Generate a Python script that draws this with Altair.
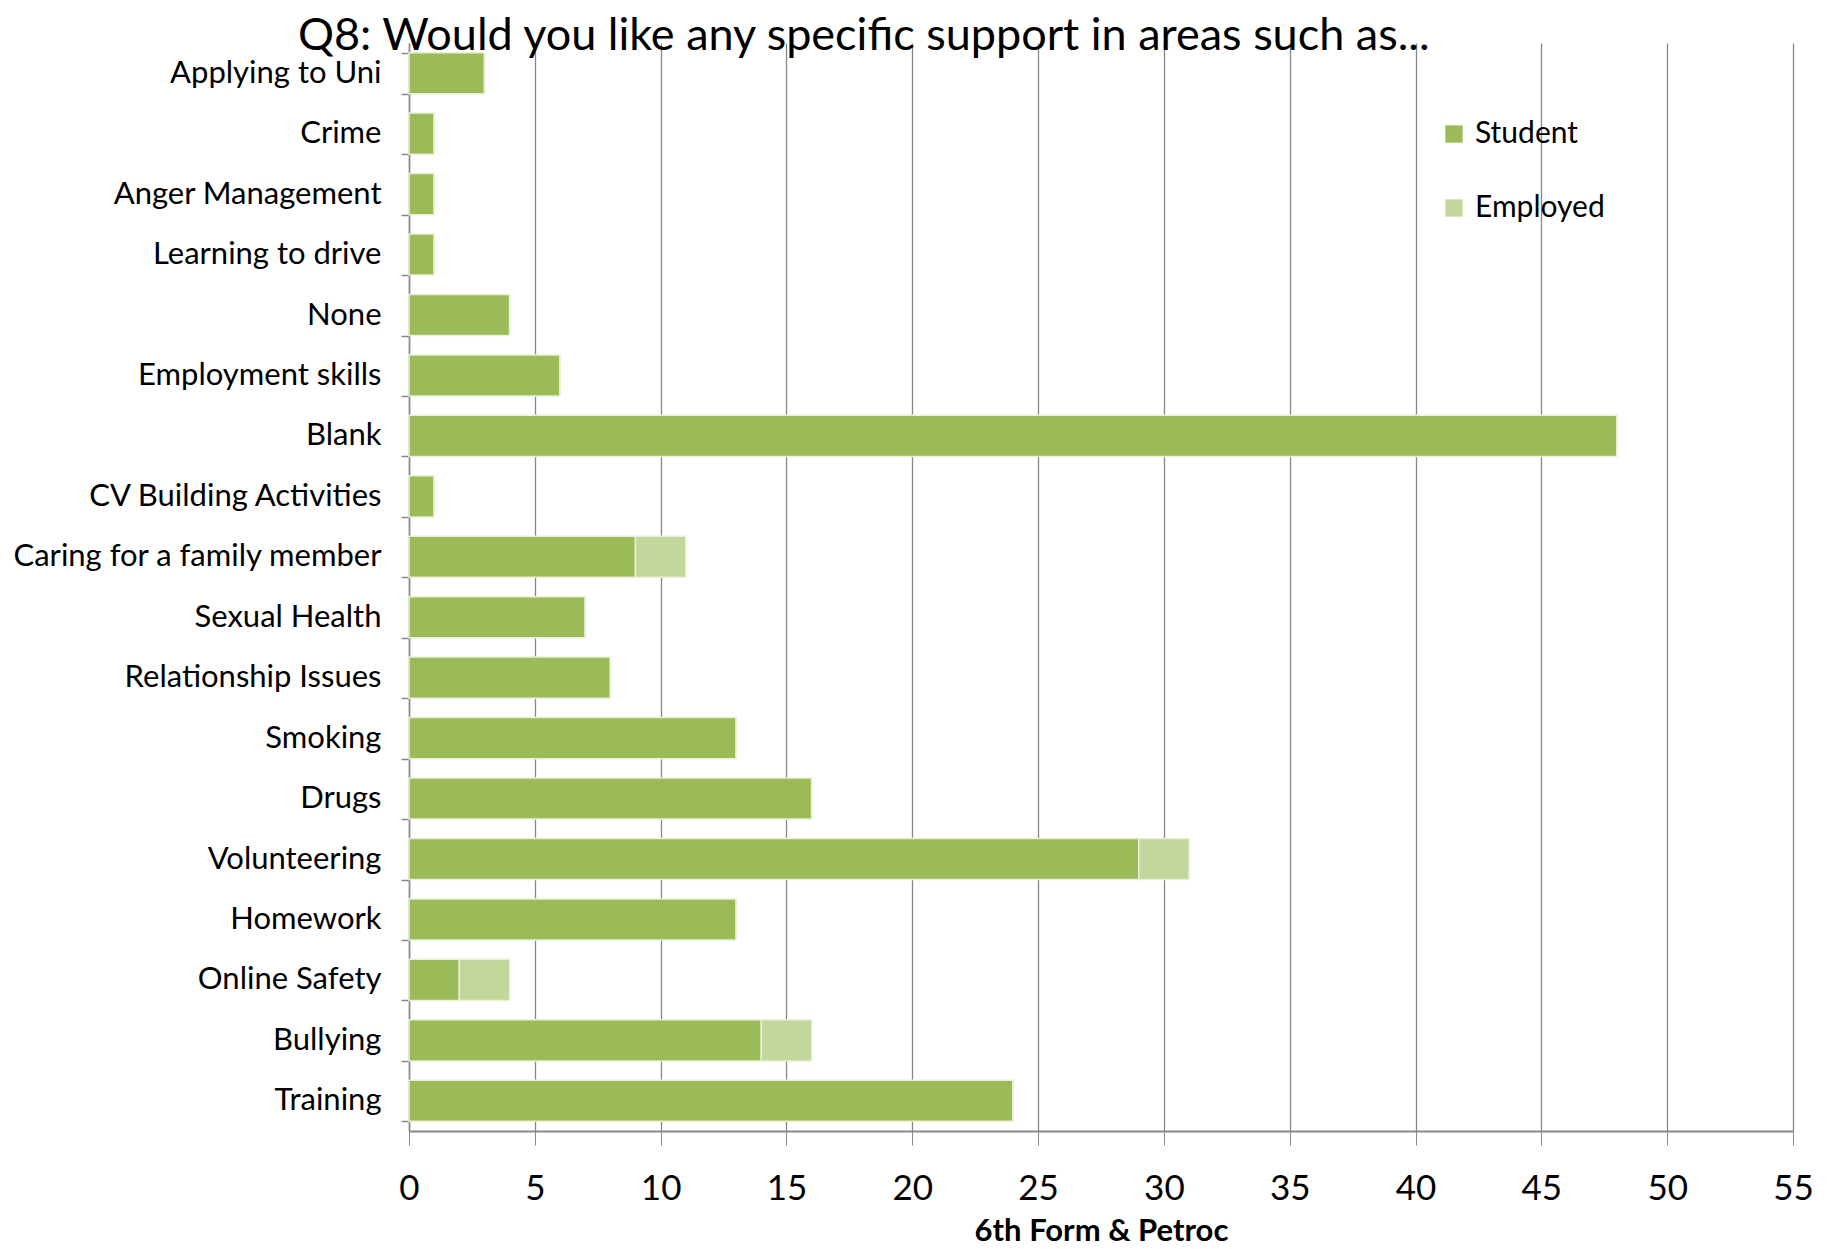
import altair as alt
import pandas as pd

categories = ["Applying to Uni", "Crime", "Anger Management", "Learning to drive", "None",
              "Employment skills", "Blank", "CV Building Activities", "Caring for a family member",
              "Sexual Health", "Relationship Issues", "Smoking", "Drugs", "Volunteering",
              "Homework", "Online Safety", "Bullying", "Training"]
student = [3, 1, 1, 1, 4, 6, 48, 1, 9, 7, 8, 13, 16, 29, 13, 2, 14, 24]
employed = [0, 0, 0, 0, 0, 0, 0, 0, 2, 0, 0, 0, 0, 2, 0, 2, 2, 0]
series = ["Student", "Employed"]
x_ticks = list(range(0, 56, 5))

rows = []
for c, s, e in zip(categories, student, employed):
    rows.append({"cat": c, "series": "Student", "value": s, "ord": 0})
    rows.append({"cat": c, "series": "Employed", "value": e, "ord": 1})
df = pd.DataFrame(rows)

FONT = "Lato"

chart = alt.Chart(df).mark_bar(stroke="#e8f0d8", strokeWidth=1.5).encode(
    y=alt.Y("cat:N", sort=categories, title=None,
            scale=alt.Scale(paddingInner=0.32, paddingOuter=0.16),
            axis=alt.Axis(tickBand="extent", grid=False, domainColor="#888888", tickColor="#888888",
                          tickSize=8, labelPadding=20, labelFontSize=31, labelFont=FONT,
                          labelColor="#000000", domainWidth=1.5, tickWidth=1.5, labelLimit=500)),
    x=alt.X("value:Q", stack="zero", title="6th Form & Petroc",
            scale=alt.Scale(domain=[0, 55], nice=False),
            axis=alt.Axis(values=x_ticks, grid=True, gridColor="#878787", gridWidth=1.3,
                          domainColor="#888888", domainWidth=2, tickColor="#888888", tickSize=14,
                          labelPadding=26, labelFontSize=35, labelFont=FONT, labelColor="#000000",
                          labelFlush=False,
                          titleFont=FONT, titleFontSize=31, titleFontWeight="bold",
                          titleColor="#000000", titlePadding=10)),
    color=alt.Color("series:N", sort=series,
                    scale=alt.Scale(domain=series, range=["#9BBB59", "#C3D69B"]),
                    legend=alt.Legend(title=None, orient="none", legendX=1030, legendY=76,
                                      symbolType="square", symbolSize=300, symbolStrokeWidth=0,
                                      labelFont=FONT, labelFontSize=30, labelColor="#000000",
                                      rowPadding=44, labelOffset=6)),
    order=alt.Order("ord:Q"),
).properties(
    width=1384, height=1088,
    title=alt.TitleParams("Q8: Would you like any specific support in areas such as...",
                          anchor="start", frame="group", dx=-111, offset=-32,
                          font=FONT, fontSize=45, fontWeight="normal", color="#000000"),
    autosize=alt.AutoSizeParams(type="none"),
    padding={"left": 401, "top": 35, "right": 30, "bottom": 116},
).configure_view(stroke=None)

chart.save("out.html", embed_options={"renderer": "svg", "actions": False})
